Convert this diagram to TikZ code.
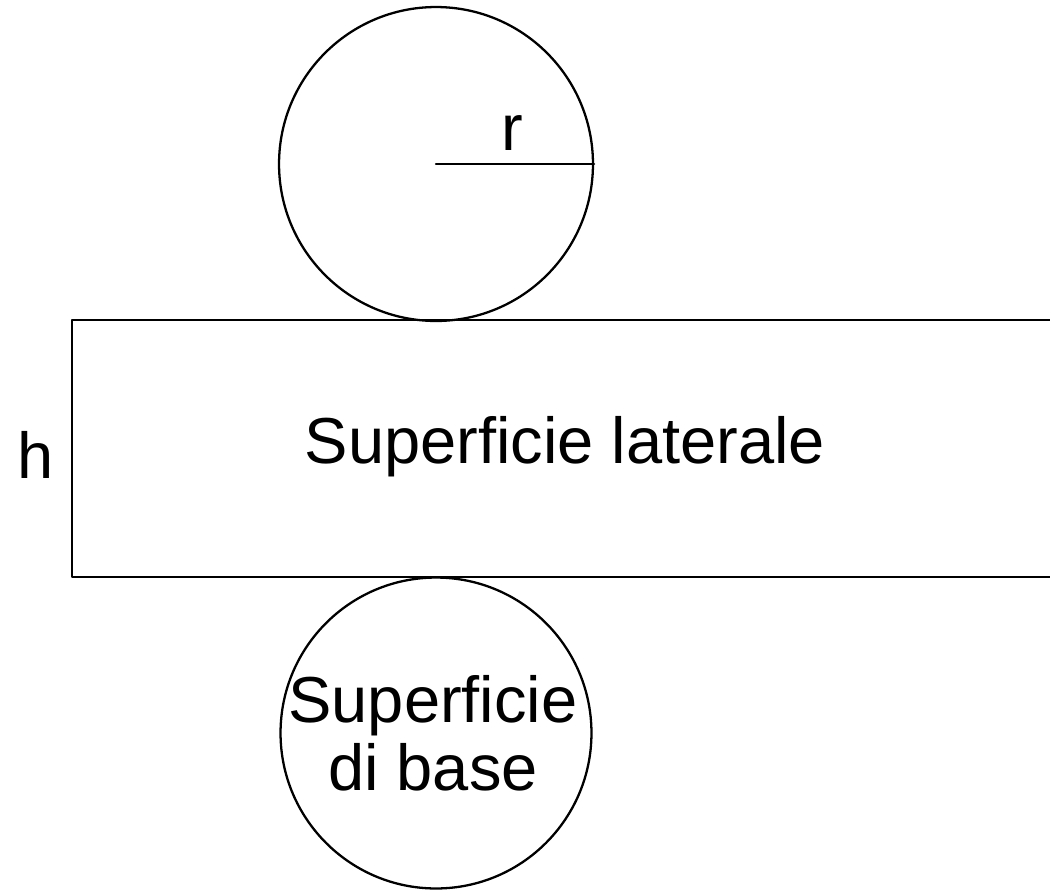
\documentclass[tikz,border=0pt]{standalone}
\usepackage{fontspec}
\setmainfont{Liberation Sans}
\usetikzlibrary{positioning}
\tikzset{
  every picture/.append style={line cap=round,line join=round},
  cyl line/.style={draw=black,line width=1.3pt},
  cyl base/.style={circle,draw=black,line width=1.3pt,inner sep=0pt,minimum size=6.24cm},
  cyl note/.style={font=\fontsize{37}{38.5}\selectfont,align=center,inner sep=0pt}
}

\begin{document}
\begin{tikzpicture}[x=0.02cm,y=-0.02cm]
\useasboundingbox (0,0) rectangle (1050,889);
% top base
\node[cyl base,minimum size=6.28cm] (top) at (436,164) {};
\draw[cyl line] (top.center) -- (top.east);
\node[cyl note] (r) at (512,133) {r};
% lateral surface
\draw[cyl line] (1070,320) -- (72,320) -- (72,577) -- (1070,577);
\node[cyl note] (lat) at (565,447) {Superficie laterale};
\node[cyl note] (h) at (36,455) {h};
% bottom base
\node[cyl base,minimum size=6.22cm] (bot) at (436,733) {};
\node[cyl note] (botlab) at (433,733) {Superficie\\di base};
\end{tikzpicture}
\end{document}
